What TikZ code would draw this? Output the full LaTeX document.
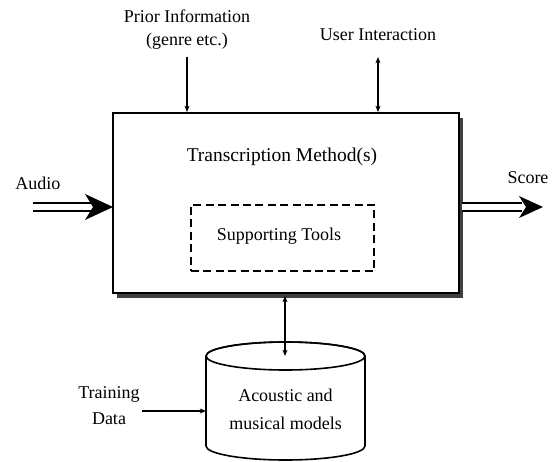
\documentclass[tikz,border=0pt]{standalone}
\usepackage{fontspec}
\setmainfont{Liberation Serif}
\usetikzlibrary{arrows.meta,shadows,calc}
\begin{document}
\begin{tikzpicture}[x=0.5pt,y=-0.5pt,
  lbl/.style={font=\fontsize{9}{11.5}\selectfont, align=center, inner sep=0pt},
  thinline/.style={line width=0.65pt},
  tipend/.style={-{Stealth[length=3pt,width=2.4pt,inset=0.6pt]}},
  tipboth/.style={{Stealth[length=3pt,width=2.4pt,inset=0.6pt]}-{Stealth[length=3pt,width=2.4pt,inset=0.6pt]}},
  shaft/.style={line width=1.3pt, double distance=2.8pt},
  mainbox/.style={draw, line width=1pt, fill=white, inner sep=0pt,
     minimum width=173pt, minimum height=90pt,
     drop shadow={shadow xshift=2.2pt, shadow yshift=-2.4pt, fill=black!75, opacity=1}},
  toolbox/.style={draw, line width=0.8pt, dash pattern=on 4pt off 2.2pt, inner sep=0pt,
     minimum width=91.5pt, minimum height=33pt},
  cyl/.style={line width=0.8pt}
]
\useasboundingbox (0,0) rectangle (554,462);

% main box
\node[mainbox] (main) at (286,203) {};
\node[lbl, font=\fontsize{9.75}{12}\selectfont] (title) at (282,157) {Transcription Method(s)};
\node[toolbox] (tools) at (282.5,238) {};
\node[lbl] (toolstext) at (279,236) {Supporting Tools};

% top inputs
\node[lbl] (prior) at (187,29.5) {Prior Information\\(genre etc.)};
\coordinate (p1) at (187,57);
\draw[thinline,tipend] (p1) -- (p1 |- main.north);

\node[lbl] (user) at (378,35) {User Interaction};
\coordinate (u1) at (378,57);
\draw[thinline,tipboth] (u1) -- (u1 |- main.north);

% audio
\node[lbl] (audio) at (38,183) {Audio};
\coordinate (ain) at (33,207);
\coordinate (atip) at (113,207);
\draw[shaft] (ain) -- ($(atip)+(-21,0)$);
\fill (atip) -- ++(-28,-13) -- ++(8,13) -- ++(-8,13) -- cycle;

% score
\node[lbl] (score) at (528,178) {Score};
\coordinate (sstart) at (462,207);
\coordinate (stip) at (543,207);
\draw[shaft] (sstart) -- ($(stip)+(-21,0)$);
\fill (stip) -- ++(-24,-11) -- ++(7,11) -- ++(-7,11) -- cycle;

% cylinder
\coordinate (cyltop) at (285.5,356);
\draw[cyl, fill=white] (206,356) -- (206,446)
   arc[start angle=180, end angle=360, x radius=39.75pt, y radius=7pt]
   -- (365,356)
   arc[start angle=0, end angle=180, x radius=39.75pt, y radius=7pt] -- cycle;
\draw[cyl] (cyltop) ellipse[x radius=39.75pt, y radius=7pt];
\node[lbl, font=\fontsize{9}{14}\selectfont] (models) at (285.5,409) {Acoustic and\\musical models};

\coordinate (m1) at (285,296);
\draw[thinline,tipboth] (m1) -- (m1 |- cyltop);

% training data
\node[lbl, font=\fontsize{9}{13}\selectfont] (train) at (109,406) {Training\\Data};
\coordinate (t1) at (142,411);
\coordinate (cylw) at (206,411);
\draw[thinline,tipend] (t1) -- (cylw);
\end{tikzpicture}
\end{document}
